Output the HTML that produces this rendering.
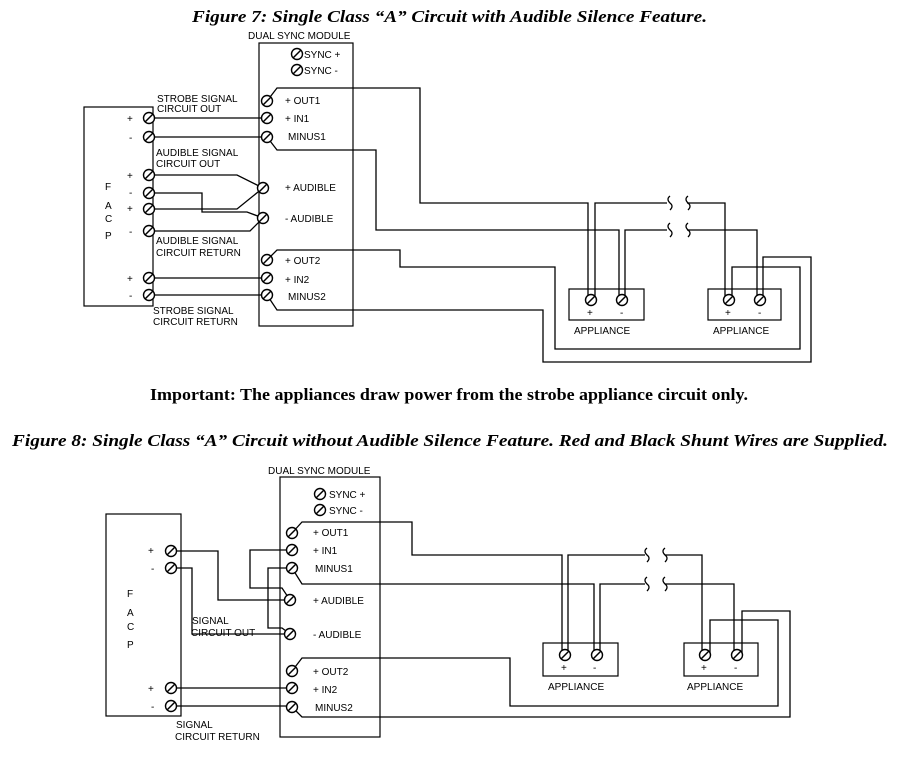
<!DOCTYPE html>
<html><head><meta charset="utf-8"><style>
html,body{margin:0;padding:0;background:#fff;}
svg{display:block;}
.t{font-family:"Liberation Serif",serif;font-weight:bold;font-style:italic;font-size:17px;}
.imp{font-family:"Liberation Serif",serif;font-weight:bold;font-style:normal;font-size:17px;}
.s{font-family:"Liberation Sans",sans-serif;font-size:10px;}
.w{fill:none;stroke:#000;stroke-width:1.3;}
.b{fill:none;stroke:#000;stroke-width:1.2;}
</style></head><body>
<svg width="912" height="766" viewBox="0 0 912 766" xmlns="http://www.w3.org/2000/svg">
<defs>
<g id="T"><circle r="5.5" fill="#fff" stroke="#000" stroke-width="1.4"/><line x1="-4" y1="4" x2="4" y2="-4" stroke="#000" stroke-width="1.5"/></g>
</defs>
<text class="t" x="192" y="22" textLength="515" lengthAdjust="spacingAndGlyphs">Figure 7:  Single Class “A” Circuit with Audible Silence Feature.</text>
<text class="imp" x="150" y="400" textLength="598" lengthAdjust="spacingAndGlyphs">Important:  The appliances draw power from the strobe appliance circuit only.</text>
<text class="t" x="12" y="446" textLength="876" lengthAdjust="spacingAndGlyphs">Figure 8:  Single Class “A” Circuit without Audible Silence Feature.  Red and Black Shunt Wires are Supplied.</text>

<!-- FIGURE 7 -->
<rect class="b" x="84" y="107" width="69" height="199"/>
<rect class="b" x="259" y="43" width="94" height="283"/>
<text class="s" x="248" y="39">DUAL SYNC MODULE</text>
<g class="s">
<text x="105" y="190">F</text><text x="105" y="209">A</text><text x="105" y="222">C</text><text x="105" y="239">P</text>
<text x="127" y="122">+</text><text x="129" y="141">-</text><text x="127" y="179">+</text><text x="129" y="196">-</text><text x="127" y="212">+</text><text x="129" y="235">-</text><text x="127" y="282">+</text><text x="129" y="299">-</text>
<text x="157" y="102">STROBE SIGNAL</text><text x="157" y="112">CIRCUIT OUT</text>
<text x="156" y="156">AUDIBLE SIGNAL</text><text x="156" y="167">CIRCUIT OUT</text>
<text x="156" y="244">AUDIBLE SIGNAL</text><text x="156" y="256">CIRCUIT RETURN</text>
<text x="153" y="314">STROBE SIGNAL</text><text x="153" y="325">CIRCUIT RETURN</text>
<text x="304" y="58">SYNC +</text><text x="304" y="74">SYNC -</text>
<text x="285" y="104">+ OUT1</text><text x="285" y="122">+ IN1</text><text x="288" y="140">MINUS1</text>
<text x="285" y="191">+ AUDIBLE</text><text x="285" y="222">-  AUDIBLE</text>
<text x="285" y="264">+ OUT2</text><text x="285" y="283">+ IN2</text><text x="288" y="300">MINUS2</text>
<text x="574" y="334">APPLIANCE</text><text x="713" y="334">APPLIANCE</text>
<text x="587" y="316">+</text><text x="620" y="316">-</text><text x="725" y="316">+</text><text x="758" y="316">-</text>
</g>
<g class="w">
<path d="M149 118H267M149 137H267M149 278H262M149 295H267"/>
<path d="M149 175H237L263 188M149 209H237L263 188M149 193H202V212H247L263 218M149 231H250L263 218"/>
<path d="M267 101L277 88H420V203H588V300M595 300V203H667M687 203H725V300"/>
<path d="M267 137L277 150H376V230H619V300M625 300V230H667M687 230H757V300"/>
<path d="M267 260L277 250H400V267H555V349H800V267H732V300"/>
<path d="M267 295L277 310H543V362H811V257H763V300"/>
<path d="M670 196q-4 3 0 7q4 3 0 7M688 196q-4 3 0 7q4 3 0 7M670 223q-4 3 0 7q4 3 0 7M688 223q-4 3 0 7q4 3 0 7"/>
</g>
<rect class="b" x="569" y="289" width="75" height="31"/>
<rect class="b" x="708" y="289" width="73" height="31"/>
<g>
<use href="#T" x="297" y="54"/><use href="#T" x="297" y="70"/>
<use href="#T" x="267" y="101"/><use href="#T" x="267" y="118"/><use href="#T" x="267" y="137"/>
<use href="#T" x="263" y="188"/><use href="#T" x="263" y="218"/>
<use href="#T" x="267" y="260"/><use href="#T" x="267" y="278"/><use href="#T" x="267" y="295"/>
<use href="#T" x="149" y="118"/><use href="#T" x="149" y="137"/><use href="#T" x="149" y="175"/><use href="#T" x="149" y="193"/><use href="#T" x="149" y="209"/><use href="#T" x="149" y="231"/><use href="#T" x="149" y="278"/><use href="#T" x="149" y="295"/>
<use href="#T" x="591" y="300"/><use href="#T" x="622" y="300"/><use href="#T" x="729" y="300"/><use href="#T" x="760" y="300"/>
</g>

<!-- FIGURE 8 -->
<rect class="b" x="106" y="514" width="75" height="202"/>
<rect class="b" x="280" y="477" width="100" height="260"/>
<text class="s" x="268" y="474">DUAL SYNC MODULE</text>
<g class="s">
<text x="127" y="597">F</text><text x="127" y="616">A</text><text x="127" y="630">C</text><text x="127" y="648">P</text>
<text x="148" y="554">+</text><text x="151" y="572">-</text><text x="148" y="692">+</text><text x="151" y="710">-</text>
<text x="192" y="624">SIGNAL</text><text x="191" y="636">CIRCUIT OUT</text>
<text x="176" y="728">SIGNAL</text><text x="175" y="740">CIRCUIT RETURN</text>
<text x="329" y="498">SYNC +</text><text x="329" y="514">SYNC -</text>
<text x="313" y="536">+ OUT1</text><text x="313" y="554">+ IN1</text><text x="315" y="572">MINUS1</text>
<text x="313" y="604">+ AUDIBLE</text><text x="313" y="638">-  AUDIBLE</text>
<text x="313" y="675">+ OUT2</text><text x="313" y="693">+ IN2</text><text x="315" y="711">MINUS2</text>
<text x="548" y="690">APPLIANCE</text><text x="687" y="690">APPLIANCE</text>
<text x="561" y="671">+</text><text x="593" y="671">-</text><text x="701" y="671">+</text><text x="734" y="671">-</text>
</g>
<g class="w">
<path d="M171 551H218V600H290M171 568H192V634H290"/>
<path d="M292 550H250V588H282L290 600M292 568H268V628H282L290 634"/>
<path d="M171 688H292M171 706H292"/>
<path d="M292 533L302 522H412V555H562V655M568 655V555H645M665 555H702V655"/>
<path d="M292 568L302 584H594V655M600 655V584H645M665 584H734V655"/>
<path d="M292 671L302 658H510V706H778V620H710V655"/>
<path d="M292 707L302 717H790V611H742V655"/>
<path d="M647 548q-4 3 0 7q4 3 0 7M665 548q-4 3 0 7q4 3 0 7M647 577q-4 3 0 7q4 3 0 7M665 577q-4 3 0 7q4 3 0 7"/>
</g>
<rect class="b" x="543" y="643" width="75" height="33"/>
<rect class="b" x="684" y="643" width="74" height="33"/>
<g>
<use href="#T" x="320" y="494"/><use href="#T" x="320" y="510"/>
<use href="#T" x="292" y="533"/><use href="#T" x="292" y="550"/><use href="#T" x="292" y="568"/>
<use href="#T" x="290" y="600"/><use href="#T" x="290" y="634"/>
<use href="#T" x="292" y="671"/><use href="#T" x="292" y="688"/><use href="#T" x="292" y="707"/>
<use href="#T" x="171" y="551"/><use href="#T" x="171" y="568"/><use href="#T" x="171" y="688"/><use href="#T" x="171" y="706"/>
<use href="#T" x="565" y="655"/><use href="#T" x="597" y="655"/><use href="#T" x="705" y="655"/><use href="#T" x="737" y="655"/>
</g>
</svg>
</body></html>
